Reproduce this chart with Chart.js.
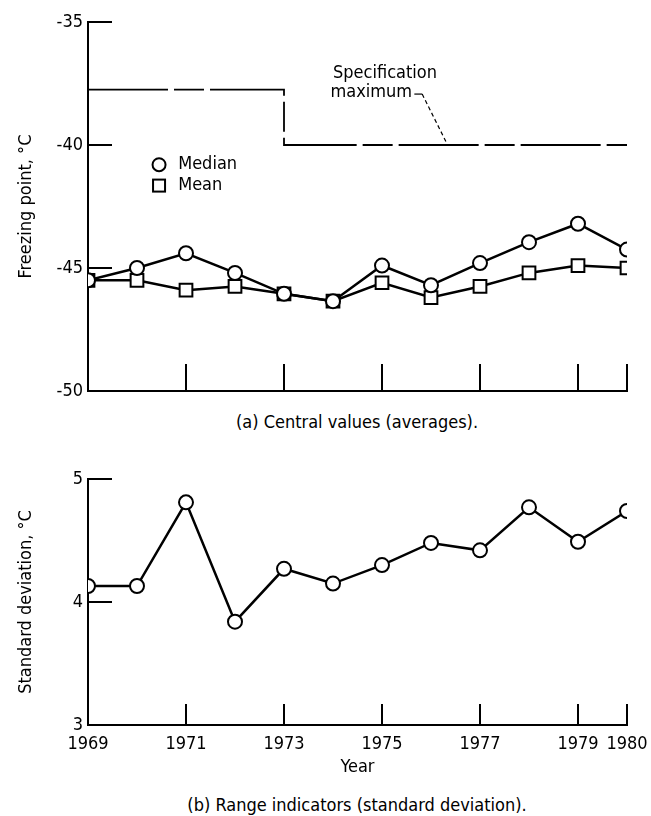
<!DOCTYPE html>
<html>
<head>
<meta charset="utf-8">
<script src="https://cdn.jsdelivr.net/npm/chart.js@4/dist/chart.umd.min.js"></script>
<style>
  body { margin: 0; background: #fff; width: 651px; height: 816px; position: relative; overflow: hidden; }
  .wrap { position: absolute; left: 0; width: 651px; }
  #wrapA { top: 0; height: 400px; }
  #wrapB { top: 440px; height: 345px; }
  .caption { position: absolute; left: 107px; width: 500px; text-align: center; color: #000; line-height: 22px;
    font-size: 18px; font-family: "Liberation Sans Narrow", "DejaVu Sans Condensed", "Open Sans", sans-serif; }
</style>
</head>
<body>
<div class="wrap" id="wrapA"><canvas id="centralChart" width="651" height="400"></canvas></div>
<div class="caption" style="top:411px">(a) Central values (averages).</div>
<div class="wrap" id="wrapB"><canvas id="rangeChart" width="651" height="345"></canvas></div>
<div class="caption" style="top:794px">(b) Range indicators (standard deviation).</div>
<script>
const years = [1969, 1970, 1971, 1972, 1973, 1974, 1975, 1976, 1977, 1978, 1979, 1980];
const medianFreeze = [-45.5, -45.0, -44.4, -45.2, -46.05, -46.35, -44.9, -45.7, -44.8, -43.95, -43.2, -44.25];
const meanFreeze = [-45.5, -45.5, -45.9, -45.75, -46.05, -46.35, -45.6, -46.2, -45.75, -45.2, -44.9, -45.0];
const specYears = [1969, 1973, 1973, 1980];
const specMaximum = [-37.75, -37.75, -40, -40];
const stdDeviation = [4.13, 4.13, 4.81, 3.84, 4.27, 4.15, 4.30, 4.48, 4.42, 4.77, 4.49, 4.74];
const yearTicks = [1969, 1971, 1973, 1975, 1977, 1979, 1980];
const freezeTicks = [-50, -45, -40, -35];
const stdTicks = [3, 4, 5];

const ink = "#000";
const family = '"Liberation Sans Narrow", "DejaVu Sans Condensed", "Open Sans", sans-serif';
const tickFont = { family, size: 18 };
const titleFont = { family, size: 18 };

const toPoints = (xs, ys) => xs.map((x, i) => ({ x, y: ys[i] }));

// the big tick padding (needed because tick marks point inward) must not eat into the layout
function dropPadding(s) {
  s.paddingTop = 0;
  s.paddingBottom = 0;
  s.paddingLeft = 0;
  s.paddingRight = 0;
}

function xAxis(showLabels, tickLen, height, title) {
  return {
    type: "linear",
    min: 1969,
    max: 1980,
    afterBuildTicks: s => { s.ticks = yearTicks.map(value => ({ value })); },
    afterFit: s => { s.height = height; dropPadding(s); },
    border: { display: true, color: ink, width: 2 },
    grid: { drawOnChartArea: false, drawTicks: true, tickLength: -tickLen, color: ink, lineWidth: 2 },
    ticks: { display: showLabels, padding: tickLen + 9, color: ink, font: tickFont, maxRotation: 0, callback: v => String(v) },
    title: title ? { display: true, text: title, color: ink, font: titleFont, padding: { top: 0, bottom: 7 } } : { display: false }
  };
}

function yAxis(min, max, tickValues, title) {
  return {
    type: "linear",
    min,
    max,
    afterBuildTicks: s => { s.ticks = tickValues.map(value => ({ value })); },
    afterFit: s => { s.width = 88; dropPadding(s); },
    border: { display: true, color: ink, width: 2 },
    grid: { drawOnChartArea: false, drawTicks: true, tickLength: -24, color: ink, lineWidth: 2 },
    ticks: { padding: 29, color: ink, font: tickFont, callback: v => String(v) },
    title: { display: true, text: title, color: ink, font: titleFont, padding: { top: 16, bottom: 0 } }
  };
}

const circleStyle = {
  borderColor: ink,
  borderWidth: 2.5,
  pointStyle: "circle",
  pointRadius: 7,
  pointBorderWidth: 2,
  pointBackgroundColor: "#fff",
  pointBorderColor: ink,
  fill: false,
  tension: 0
};

// legend + "Specification maximum" leader, placed in data coordinates
const centralNotes = {
  id: "centralNotes",
  afterDatasetsDraw(chart) {
    const { ctx, scales: { x, y } } = chart;
    ctx.save();
    ctx.strokeStyle = ink;
    ctx.font = `18px ${family}`;
    ctx.textBaseline = "middle";
    ctx.textAlign = "left";

    // legend
    const lx = x.getPixelForValue(1970.45);
    const ly1 = y.getPixelForValue(-40.8);
    const ly2 = y.getPixelForValue(-41.65);
    ctx.lineWidth = 2;
    ctx.fillStyle = "#fff";
    ctx.beginPath();
    ctx.arc(lx, ly1, 6.5, 0, Math.PI * 2);
    ctx.fill();
    ctx.stroke();
    ctx.fillRect(lx - 6, ly2 - 6, 12, 12);
    ctx.strokeRect(lx - 6, ly2 - 6, 12, 12);
    ctx.fillStyle = ink;
    ctx.fillText("Median", x.getPixelForValue(1970.84), ly1);
    ctx.fillText("Mean", x.getPixelForValue(1970.84), ly2);

    // specification label
    ctx.fillText("Specification", x.getPixelForValue(1974.0), y.getPixelForValue(-37.07));
    ctx.fillText("maximum", x.getPixelForValue(1973.95), y.getPixelForValue(-37.85));
    ctx.lineWidth = 1.2;
    const ay = y.getPixelForValue(-37.93);
    ctx.beginPath();
    ctx.moveTo(x.getPixelForValue(1975.66), ay);
    ctx.lineTo(x.getPixelForValue(1975.82), ay);
    ctx.stroke();
    ctx.setLineDash([4, 3]);
    ctx.beginPath();
    ctx.moveTo(x.getPixelForValue(1975.82), ay);
    ctx.lineTo(x.getPixelForValue(1976.34), y.getPixelForValue(-40));
    ctx.stroke();
    ctx.restore();
  }
};

new Chart(document.getElementById("centralChart"), {
  type: "line",
  data: {
    datasets: [
      { label: "Median", data: toPoints(years, medianFreeze), ...circleStyle },
      {
        label: "Mean",
        data: toPoints(years, meanFreeze),
        ...circleStyle,
        pointStyle: "rect",
        pointRadius: 9
      },
      {
        label: "Specification maximum",
        data: toPoints(specYears, specMaximum),
        borderColor: ink,
        borderWidth: 1.8,
        borderDash: [80, 6, 30, 6],
        pointRadius: 0,
        fill: false,
        tension: 0
      }
    ]
  },
  options: {
    responsive: false,
    animation: false,
    layout: { autoPadding: false, padding: { left: 0, right: 24, top: 22, bottom: 0 } },
    plugins: { legend: { display: false }, tooltip: { enabled: false } },
    scales: {
      x: xAxis(false, 27, 9, null),
      y: yAxis(-50, -35, freezeTicks, "Freezing point, \u00B0C")
    }
  },
  plugins: [centralNotes]
});

new Chart(document.getElementById("rangeChart"), {
  type: "line",
  data: {
    datasets: [
      { label: "Standard deviation", data: toPoints(years, stdDeviation), ...circleStyle }
    ]
  },
  options: {
    responsive: false,
    animation: false,
    layout: { autoPadding: false, padding: { left: 0, right: 24, top: 39, bottom: 0 } },
    plugins: { legend: { display: false }, tooltip: { enabled: false } },
    scales: {
      x: xAxis(true, 21, 60, "Year"),
      y: yAxis(3, 5, stdTicks, "Standard deviation, \u00B0C")
    }
  }
});
</script>
</body>
</html>
